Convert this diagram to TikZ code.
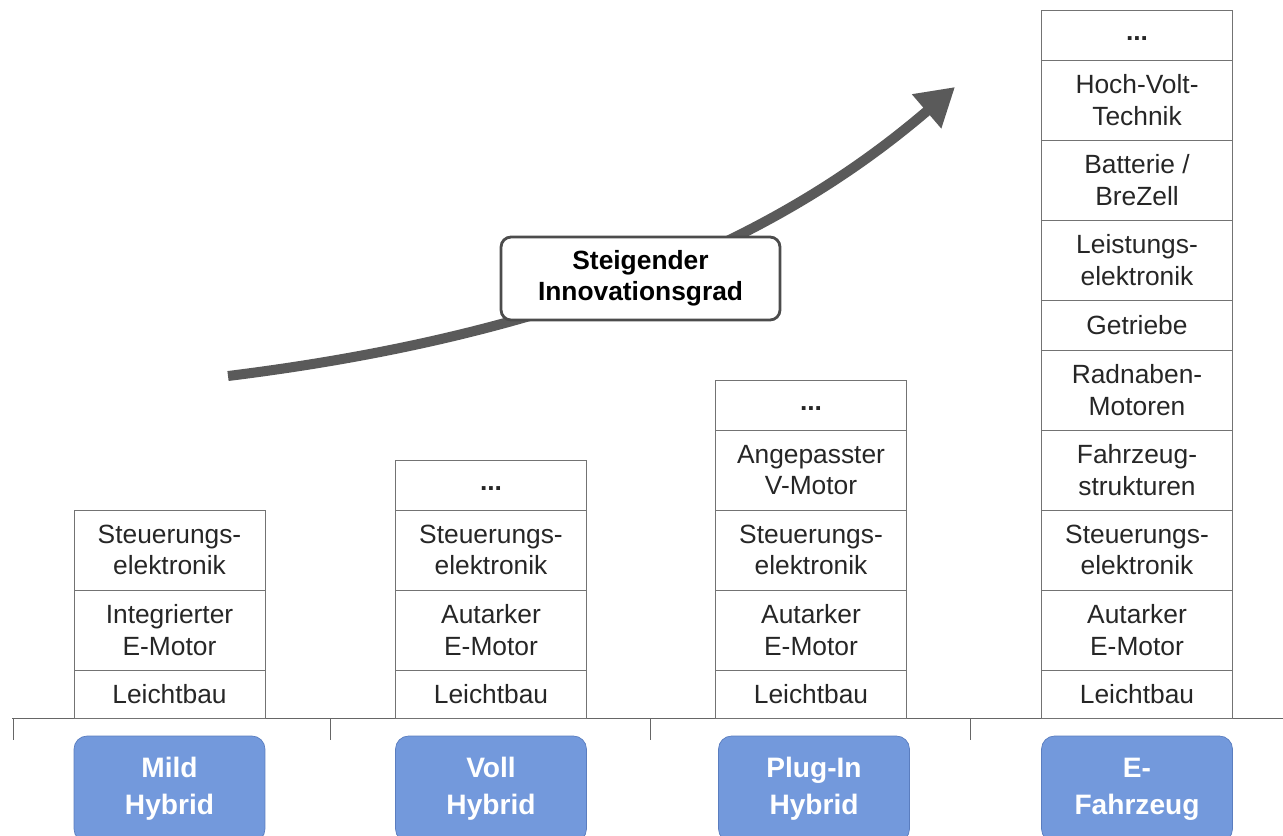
\documentclass[tikz,border=0pt]{standalone}
\usepackage{fontspec}
\setmainfont{Liberation Sans}
\usepackage{tikz}
\usetikzlibrary{positioning,arrows.meta}
\definecolor{typfill}{HTML}{7399DC}
\definecolor{typedge}{HTML}{5A7DBF}
\definecolor{arrowgrey}{HTML}{5A5A5A}
\newcommand{\celldots}{\raisebox{-0.2cm}{\textbf{...}}}

\begin{document}
\begin{tikzpicture}[x=0.02cm,y=-0.02cm,
  cell/.style={draw=black!55, outer sep=0pt, inner sep=1pt, minimum width=3.82cm,
    minimum height=1.6cm, align=center, text=black!85,
    font=\fontsize{15}{18}\selectfont},
  dots cell/.style={cell, minimum height=1cm},
  low cell/.style={cell, minimum height=0.96cm},
  typ/.style={draw=typedge, fill=typfill, rounded corners=0.26cm, minimum width=3.82cm,
    minimum height=2.12cm, align=center, text=white,
    font=\fontsize{16}{21}\selectfont\bfseries},
  grad/.style={draw=black!70, line width=1.6pt, fill=white, rounded corners=0.2cm,
    minimum width=5.58cm, minimum height=1.66cm, align=center,
    font=\fontsize{15}{17.5}\selectfont\bfseries}]
\useasboundingbox (0,0) rectangle (1283,835);
\clip (0,0) rectangle (1283,835);
% axis
\draw[black!60] (12,718) -- (1283,718);
\foreach \x in {13,330,650,970}
  \draw[black!60] (\x,718) -- (\x,740);
% innovation arrow
\coordinate (a0) at (228,376);
\coordinate (a1) at (955,87);
\draw[arrowgrey, line width=0.2cm, -{Triangle[length=0.75cm,width=0.85cm]}]
  (a0) .. controls (600,330) and (800,220) .. (a1);
\node[grad] (label) at (640.5,278.5) {Steigender\\Innovationsgrad};
% Mild Hybrid
\node[low cell, anchor=south] (mild1) at (169.5,718) {Leichtbau};
\node[cell, above=0pt of mild1] (mild2) {Integrierter\\E-Motor};
\node[cell, above=0pt of mild2] (mild3) {Steuerungs-\\elektronik};
% Voll Hybrid
\node[low cell, anchor=south] (voll1) at (491,718) {Leichtbau};
\node[cell, above=0pt of voll1] (voll2) {Autarker\\E-Motor};
\node[cell, above=0pt of voll2] (voll3) {Steuerungs-\\elektronik};
\node[dots cell, above=0pt of voll3] (voll4) {\celldots};
% Plug-In Hybrid
\node[low cell, anchor=south] (plug1) at (811,718) {Leichtbau};
\node[cell, above=0pt of plug1] (plug2) {Autarker\\E-Motor};
\node[cell, above=0pt of plug2] (plug3) {Steuerungs-\\elektronik};
\node[cell, above=0pt of plug3] (plug4) {Angepasster\\V-Motor};
\node[dots cell, above=0pt of plug4] (plug5) {\celldots};
% E-Fahrzeug
\node[low cell, anchor=south] (efz1) at (1137,718) {Leichtbau};
\node[cell, above=0pt of efz1] (efz2) {Autarker\\E-Motor};
\node[cell, above=0pt of efz2] (efz3) {Steuerungs-\\elektronik};
\node[cell, above=0pt of efz3] (efz4) {Fahrzeug-\\strukturen};
\node[cell, above=0pt of efz4] (efz5) {Radnaben-\\Motoren};
\node[dots cell, above=0pt of efz5] (efz6) {Getriebe};
\node[cell, above=0pt of efz6] (efz7) {Leistungs-\\elektronik};
\node[cell, above=0pt of efz7] (efz8) {Batterie /\\BreZell};
\node[cell, above=0pt of efz8] (efz9) {Hoch-Volt-\\Technik};
\node[dots cell, above=0pt of efz9] (efz10) {\celldots};
% vehicle types
\node[typ] (mild) at (169.5,789) {Mild\\Hybrid};
\node[typ] (voll) at (491,789) {Voll\\Hybrid};
\node[typ] (plug) at (814,789) {Plug-In\\Hybrid};
\node[typ] (efz) at (1137,789) {E-\\Fahrzeug};
\end{tikzpicture}
\end{document}
